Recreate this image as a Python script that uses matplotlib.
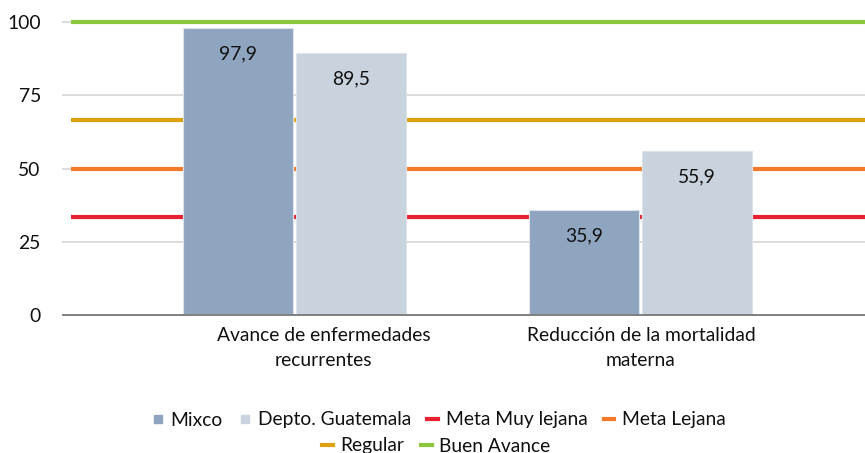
import matplotlib
matplotlib.use("Agg")
import matplotlib.pyplot as plt
from matplotlib.lines import Line2D
import matplotlib.transforms as mtransforms

categories = ["Avance de enfermedades\nrecurrentes", "Reducción de la mortalidad\nmaterna"]
series_names = ["Mixco", "Depto. Guatemala"]
mixco = [97.9, 35.9]
depto = [89.5, 55.9]
ref_names = ["Meta Muy lejana", "Meta Lejana", "Regular", "Buen Avance"]
ref_values = [33.3, 50.0, 66.7, 100.0]
yticks = [0, 25, 50, 75, 100]

bar_colors = ["#8FA5BF", "#C8D3DE"]
ref_colors = ["#E8202F", "#F47A2A", "#DFA012", "#8DC63F"]

FONT = "Lato"
FS = 13.9
plt.rcParams['font.family'] = [FONT, 'DejaVu Sans']

fig = plt.figure(figsize=(8.65, 4.53), dpi=100)
W, H = 865, 453
ax = fig.add_axes([63 / W, (H - 315) / H, (W - 63) / W, (315 - 22) / H])

x = [0, 1]
bw = 0.318
off = 0.1635
xs1 = [xi - off for xi in x]
xs2 = [xi + off for xi in x]

ax.set_xlim(-0.671, 1.650)
ax.set_ylim(0, 100)

# gridlines
for t in yticks[1:]:
    ax.axhline(t, color="#D9D9D9", lw=1.3, zorder=0, clip_on=False)

# reference lines
for v, c in zip(ref_values, ref_colors):
    ax.hlines(v, -0.648, 1.650, colors=c, lw=3.0, zorder=1, clip_on=False)

b1 = ax.bar(xs1, mixco, width=bw, color=bar_colors[0], edgecolor="#DCE3EA", lw=0.8, zorder=3)
b2 = ax.bar(xs2, depto, width=bw, color=bar_colors[1], edgecolor="#DCE3EA", lw=0.8, zorder=3)

for bars, vals in ((b1, mixco), (b2, depto)):
    for rect, v in zip(bars, vals):
        ax.annotate(f"{v:.1f}".replace(".", ","),
                    (rect.get_x() + rect.get_width() / 2, v),
                    xytext=(0, -18.5), textcoords="offset points",
                    ha="center", va="center", fontsize=FS, color="#111111", zorder=4)

ax.axhline(0, color="#7F7F7F", lw=1.4, zorder=5, clip_on=False)

for s in ax.spines.values():
    s.set_visible(False)

ax.set_yticks(yticks)
ax.set_yticklabels([str(t) for t in yticks], fontsize=FS, color="#111111")
ax.tick_params(axis="y", length=0, pad=16)
ax.set_xticks([])

label_x = [0.0825, 1.0014]
trans = mtransforms.blended_transform_factory(ax.transData, fig.transFigure)
for lx, lab in zip(label_x, categories):
    fig.text(lx, 1 - 327 / H, lab, transform=trans, ha="center", va="top",
             fontsize=FS, color="#111111", linespacing=1.6)

h_row1 = [
    Line2D([], [], ls="none", marker="s", markersize=5.5, markerfacecolor=bar_colors[0], markeredgecolor=bar_colors[0]),
    Line2D([], [], ls="none", marker="s", markersize=5.5, markerfacecolor=bar_colors[1], markeredgecolor=bar_colors[1]),
    Line2D([], [], color=ref_colors[0], lw=3.0),
    Line2D([], [], color=ref_colors[1], lw=3.0),
]
h_row2 = [
    Line2D([], [], color=ref_colors[2], lw=3.0),
    Line2D([], [], color=ref_colors[3], lw=3.0),
]
common = dict(frameon=False, fontsize=FS, handlelength=0.55, handletextpad=0.4,
              columnspacing=0.85, borderpad=0, borderaxespad=0, labelcolor="#111111")
leg1 = fig.legend(h_row1, series_names + ref_names[:2], ncol=4, loc="center",
                  bbox_to_anchor=(439 / W, 1 - 420 / H), **common)
leg2 = fig.legend(h_row2, ref_names[2:], ncol=2, loc="center",
                  bbox_to_anchor=(436.5 / W, 1 - 446 / H), **common)

fig.savefig("out.png", dpi=100)
